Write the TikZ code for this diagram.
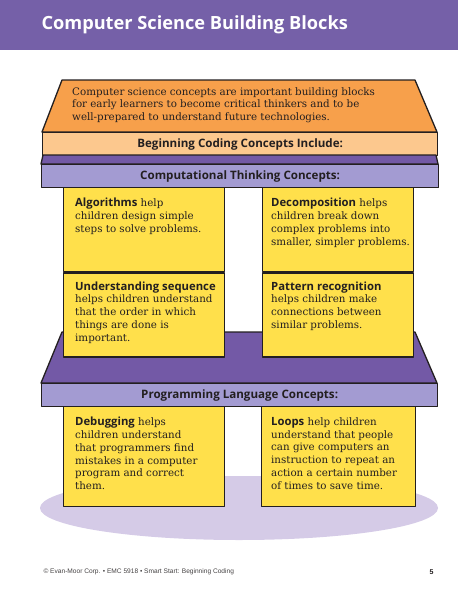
\documentclass[tikz,border=0pt]{standalone}
\usepackage{fontspec}
\setmainfont{DejaVu Serif}
\newfontfamily\headfont{Open Sans}
\newfontfamily\footfont{Liberation Sans}
\usetikzlibrary{positioning}
\definecolor{ink}{HTML}{231F20}
\definecolor{banner}{HTML}{7560A8}
\definecolor{slabtop}{HTML}{7359A6}
\definecolor{lavender}{HTML}{A39BD2}
\definecolor{roof}{HTML}{F7A04B}
\definecolor{rooffront}{HTML}{FCC88E}
\definecolor{brick}{HTML}{FFE04B}
\definecolor{lilacshadow}{HTML}{D5CBE7}
\newcommand{\term}[1]{{\headfont\bfseries\fontsize{11.3}{12.8}\selectfont #1}}
\tikzset{outline/.style={draw=ink,line width=1.3pt,line join=round},
  block/.style={outline,fill=brick,anchor=north west,inner sep=0pt},
  band/.style={outline,anchor=north west,inner sep=0pt,minimum height=23pt,text=ink,
    font=\headfont\bfseries\fontsize{11.6}{13}\selectfont},
  blurb/.style={anchor=north west,inner sep=0pt,align=left,text=ink,
    font=\fontsize{10.3}{12.8}\selectfont}}
\begin{document}
\begin{tikzpicture}[x=1pt,y=-1pt]
\useasboundingbox (0,0) rectangle (458,595);
\fill[banner] (0,0) rectangle (458,50);
\node[anchor=west,text=white,font=\headfont\bfseries\fontsize{18.2}{22}\selectfont] (title) at (38,25) {Computer Science Building Blocks};
\fill[lilacshadow] (239,508) ellipse [x radius=199pt,y radius=32pt];
\draw[outline,fill=slabtop] (62,332) -- (415,332) -- (437,383) -- (41,383) -- cycle;
\node[band,fill=lavender,minimum width=396pt] (plc) at (41,383) {Programming Language Concepts:};
\node[block,minimum width=161pt,minimum height=100pt] (debugbox) at (63,406) {};
\node[block,minimum width=154pt,minimum height=100pt] (loopsbox) at (261,406) {};
\node[block,minimum width=161pt,minimum height=84pt] (algobox) at (63,187) {};
\node[block,minimum width=161pt,minimum height=84pt] (seqbox) at (algobox.south west) {};
\node[block,minimum width=151pt,minimum height=84pt] (decobox) at (262,187) {};
\node[block,minimum width=151pt,minimum height=84pt] (pattbox) at (decobox.south west) {};
\draw[outline,fill=roof] (62,80) -- (415,80) -- (437,132) -- (42,132) -- cycle;
\node[band,fill=rooffront,minimum width=395pt] (bcc) at (42,132) {Beginning Coding Concepts Include:};
\draw[outline,fill=slabtop] (43,155) -- (436,155) -- (438,164) -- (41,164) -- cycle;
\node[band,fill=lavender,minimum width=397pt] (ctc) at (41,164) {Computational Thinking Concepts:};
\node[blurb,font=\fontsize{10.3}{12.5}\selectfont] (intro) at (72,87) {Computer science concepts are important building blocks\\for early learners to become critical thinkers and to be\\well-prepared to understand future technologies.};
\node[blurb,below right=11pt and 12pt of algobox.north west] (algo) {\term{Algorithms} help\\children design simple\\steps to solve problems.};
\node[blurb,below right=9pt and 12pt of seqbox.north west] (seq) {\term{Understanding sequence}\\helps children understand\\that the order in which\\things are done is\\important.};
\node[blurb,below right=11pt and 9pt of decobox.north west] (deco) {\term{Decomposition} helps\\children break down\\complex problems into\\smaller, simpler problems.};
\node[blurb,below right=9pt and 9pt of pattbox.north west] (patt) {\term{Pattern recognition}\\helps children make\\connections between\\similar problems.};
\node[blurb,below right=11pt and 12pt of debugbox.north west] (debug) {\term{Debugging} helps\\children understand\\that programmers find\\mistakes in a computer\\program and correct\\them.};
\node[blurb,below right=11pt and 10pt of loopsbox.north west] (loops) {\term{Loops} help children\\understand that people\\can give computers an\\instruction to repeat an\\action a certain number\\of times to save time.};
\node[anchor=west,text=ink!85,font=\footfont\fontsize{6.6}{7}\selectfont] (credit) at (40,572) {\textcopyright{} Evan-Moor Corp. • EMC 5918 • Smart Start: Beginning Coding};
\node[anchor=east,text=ink,font=\footfont\bfseries\fontsize{7}{8}\selectfont] (pageno) at (437,572) {5};
\end{tikzpicture}
\end{document}
